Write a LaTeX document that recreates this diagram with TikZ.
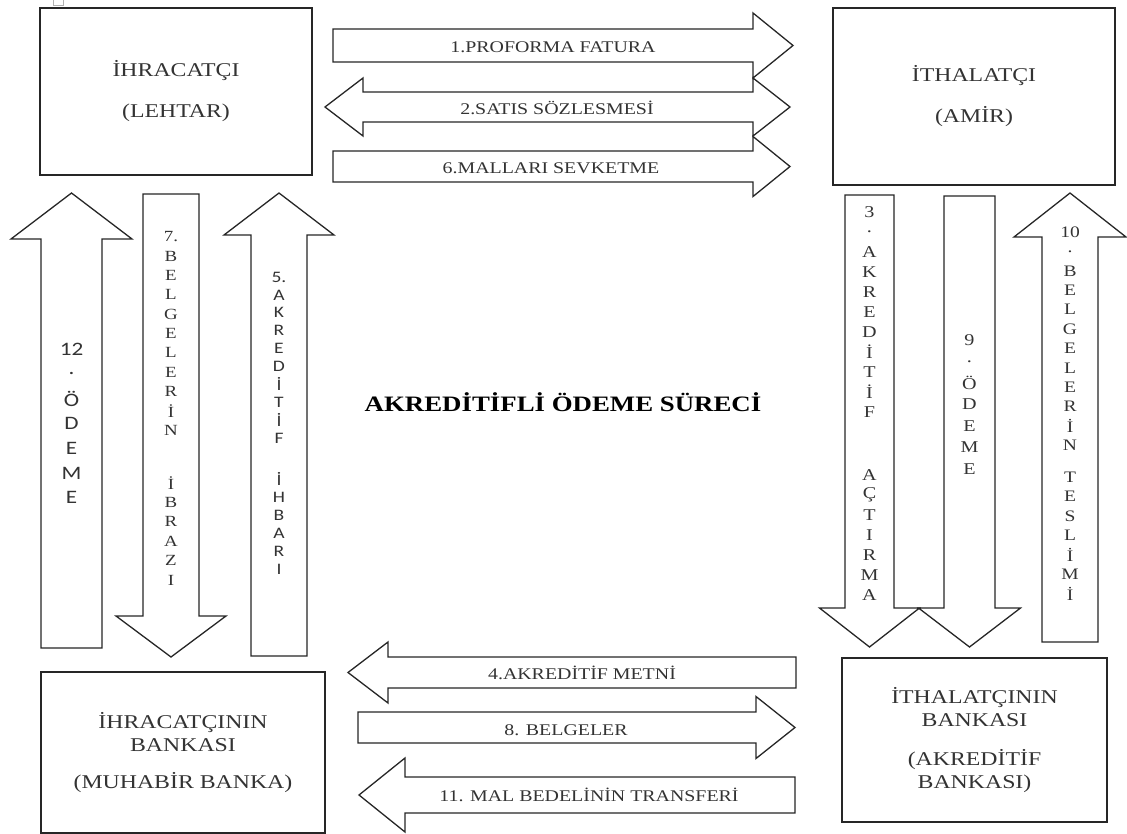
\documentclass[tikz,border=0pt]{standalone}
\usepackage{fontspec}
\setmainfont[FakeStretch=1.22]{Liberation Serif}
\newfontfamily\calfont[FakeStretch=1.22]{Carlito}
% block arrows: tail, head base, tip, centre, half body, half head
\newcommand{\hblock}[6]{\draw[blk] (#1,#4-#5) -- (#2,#4-#5) -- (#2,#4-#6) -- (#3,#4) -- (#2,#4+#6) -- (#2,#4+#5) -- (#1,#4+#5) -- cycle;}
\newcommand{\vblock}[6]{\draw[blk] (#1-#5,#2) -- (#1-#5,#3) -- (#1-#6,#3) -- (#1,#4) -- (#1+#6,#3) -- (#1+#5,#3) -- (#1+#5,#2) -- cycle;}
\tikzset{
  box/.style={draw=black!85,line width=1.6pt,rectangle,inner sep=0,align=center,text=black!80,font=\fontsize{19.5}{23}\selectfont},
  blk/.style={draw=black!85,line width=1.3pt,fill=white,line join=miter},
  lab/.style={inner sep=0,text=black!80,font=\fontsize{16.3}{19}\selectfont},
  vlet/.style={inner sep=0,text=black!80}
}
\begin{document}
\begin{tikzpicture}[x=1pt,y=-1pt]
\useasboundingbox (0,0) rectangle (1127,834);
\draw[black!30] (53,-3) rectangle (63,5);
% parties and banks
\node[box,minimum width=272,minimum height=167] (ihr) at (176,91.5) {İHRACATÇI\\[18pt](LEHTAR)};
\node[box,minimum width=282,minimum height=177] (ith) at (974,96.5) {İTHALATÇI\\[18pt](AMİR)};
\node[box,minimum width=284,minimum height=161] (ihrb) at (183,752.5) {İHRACATÇININ\\BANKASI\\[14pt](MUHABİR BANKA)};
\node[box,minimum width=265,minimum height=164] (ithb) at (974.5,740) {İTHALATÇININ\\BANKASI\\[16pt](AKREDİTİF\\BANKASI)};
% horizontal arrows
\hblock{333}{753}{793}{45.5}{16.5}{32.5}
\draw[blk] (325,107) -- (363,78) -- (363,92) -- (753,92) -- (753,78) -- (790,107) -- (753,136) -- (753,122) -- (363,122) -- (363,136) -- cycle;
\hblock{333}{753}{790}{166.5}{15.5}{30}
\hblock{796}{388}{348}{672.5}{15.5}{30.5}
\hblock{358}{756}{795}{727.5}{15.5}{31}
\hblock{795}{405}{359}{795}{18}{37}
\node[lab] (l1) at (553,47) {1.PROFORMA FATURA};
\node[lab] (l2) at (557,108) {2.SATIS SÖZLESMESİ};
\node[lab] (l6) at (551,168) {6.MALLARI SEVKETME};
\node[lab] (l4) at (582,673) {4.AKREDİTİF METNİ};
\node[lab] (l8) at (566,730) {8. BELGELER};
\node[lab] (l11) at (589,795) {11. MAL BEDELİNİN TRANSFERİ};
% vertical arrows
\vblock{71.5}{648}{239}{193}{30.5}{60.5}
\vblock{171}{194}{616}{657}{28}{55}
\vblock{279}{656}{235}{193}{28}{55}
\vblock{869.5}{195}{608}{647}{24.5}{50}
\vblock{969.5}{196}{608}{647}{25.5}{51}
\vblock{1070}{642}{237}{193}{28}{56}
\foreach \c [count=\i from 0] in {12,.,Ö,D,E,M,E}
  \node[vlet,font=\calfont\fontsize{19}{19}\selectfont] (a12-\i) at (71.5,349+24.8*\i) {\c};
\foreach \c [count=\i from 0] in {7.,B,E,L,G,E,L,E,R,İ,N}
  \node[vlet,font=\fontsize{15.5}{16}\selectfont] (a7-\i) at (171,237+19.3*\i) {\c};
\foreach \c [count=\i from 0] in {İ,B,R,A,Z,I}
  \node[vlet,font=\fontsize{15.5}{16}\selectfont] (b7-\i) at (171,483+19.4*\i) {\c};
\foreach \c [count=\i from 0] in {5.,A,K,R,E,D,İ,T,İ,F}
  \node[vlet,font=\calfont\fontsize{16}{16}\selectfont] (a5-\i) at (279,277+17.9*\i) {\c};
\foreach \c [count=\i from 0] in {İ,H,B,A,R,I}
  \node[vlet,font=\calfont\fontsize{16}{16}\selectfont] (b5-\i) at (279,479+18*\i) {\c};
\foreach \c [count=\i from 0] in {3,.,A,K,R,E,D,İ,T,İ,F}
  \node[vlet,font=\fontsize{16.5}{17}\selectfont] (a3-\i) at (869.5,212+20*\i) {\c};
\foreach \c [count=\i from 0] in {A,Ç,T,I,R,M,A}
  \node[vlet,font=\fontsize{16.5}{17}\selectfont] (b3-\i) at (869.5,475+20*\i) {\c};
\foreach \c [count=\i from 0] in {9,.,Ö,D,E,M,E}
  \node[vlet,font=\fontsize{16.5}{17}\selectfont] (a9-\i) at (969.5,340+21.5*\i) {\c};
\foreach \c [count=\i from 0] in {10,.,B,E,L,G,E,L,E,R,İ,N}
  \node[vlet,font=\fontsize{16}{17}\selectfont] (a10-\i) at (1070,232+19.4*\i) {\c};
\foreach \c [count=\i from 0] in {T,E,S,L,İ,M,İ}
  \node[vlet,font=\fontsize{16}{17}\selectfont] (b10-\i) at (1070,477+19.4*\i) {\c};
% title
\node[font=\bfseries\fontsize{22}{26}\selectfont] (title) at (563,402) {AKREDİTİFLİ ÖDEME SÜRECİ};
\end{tikzpicture}
\end{document}
